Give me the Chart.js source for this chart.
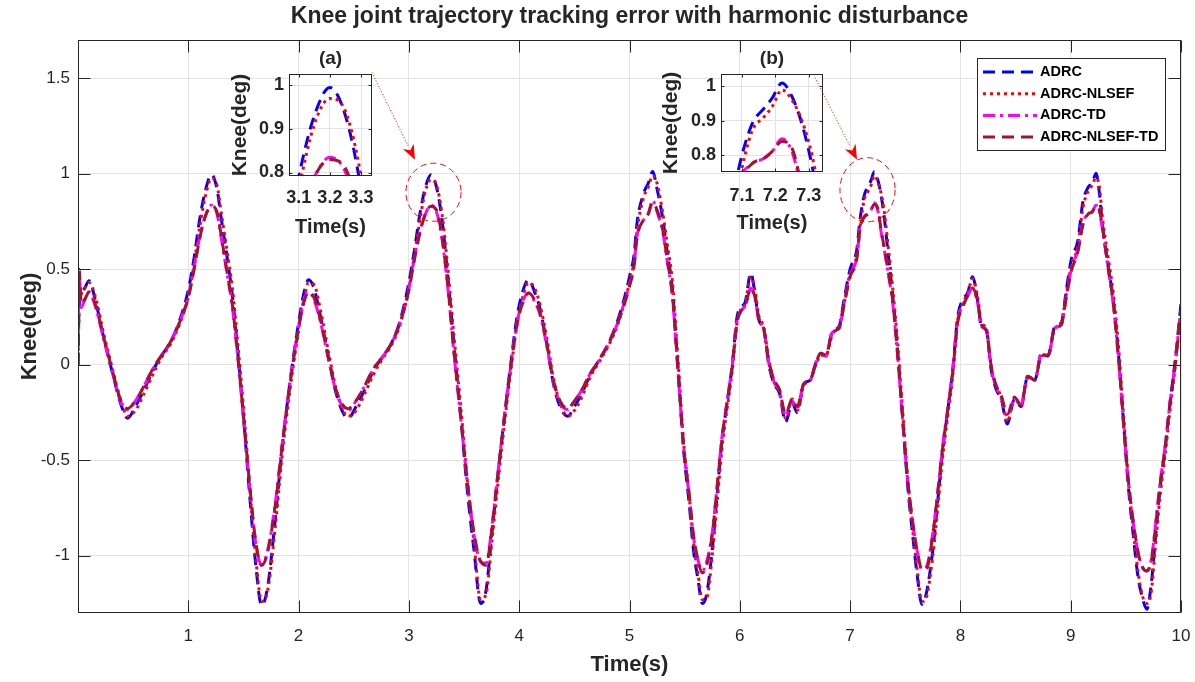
<!DOCTYPE html>
<html>
<head>
<meta charset="utf-8">
<script src="https://cdn.jsdelivr.net/npm/chart.js@4.4.1/dist/chart.umd.min.js"></script>
<style>
  html, body { margin: 0; padding: 0; background: #fff; }
  #wrap { position: relative; width: 1195px; height: 682px; }
  canvas { position: absolute; }
  #marks { pointer-events: none; }
</style>
</head>
<body>
<div id="wrap">
  <canvas id="main" width="1195" height="682" style="left:0;top:0"></canvas>
  <canvas id="insetA" width="160" height="200" style="left:220px;top:40px"></canvas>
  <canvas id="insetB" width="180" height="200" style="left:650px;top:40px"></canvas>
  <canvas id="marks" width="1195" height="682" style="left:0;top:0"></canvas>
</div>
<script>
// ---------- DATA ----------
const time = [
  0, 0.01, 0.03, 0.06, 0.1, 0.16, 0.23, 0.32, 0.39, 0.45, 0.52, 0.6, 0.68, 0.76, 0.84, 0.92, 1.0, 1.05, 1.1, 1.15, 1.21, 1.26, 1.3, 1.35, 1.4, 1.45, 1.5, 1.56, 1.61, 1.665, 1.72, 1.79, 1.85, 1.92, 2.0, 2.05, 2.09, 2.14, 2.2, 2.27, 2.35, 2.45,
  2.52, 2.6, 2.68, 2.76, 2.84, 2.92, 3.0, 3.05, 3.1, 3.15, 3.2, 3.25, 3.3, 3.35, 3.41, 3.47, 3.53, 3.59, 3.65, 3.7, 3.75, 3.8, 3.86, 3.92, 3.98, 4.03, 4.085, 4.14, 4.19, 4.25, 4.31, 4.37, 4.44,
  4.5, 4.56, 4.64, 4.72, 4.8, 4.88, 4.95, 5.0, 5.04, 5.07, 5.13, 5.17, 5.21, 5.25, 5.3, 5.34, 5.39, 5.42, 5.45, 5.49, 5.54, 5.58, 5.62, 5.66, 5.7, 5.75, 5.79, 5.84, 5.885, 5.93, 5.975, 6.01, 6.05, 6.1, 6.14, 6.17, 6.22, 6.26, 6.31, 6.36, 6.415,
  6.475, 6.52, 6.58, 6.64, 6.69, 6.735, 6.78, 6.84, 6.9, 6.945, 7.0, 7.06, 7.09, 7.13, 7.165, 7.19, 7.22, 7.25, 7.28, 7.31, 7.345, 7.385, 7.43, 7.475, 7.52, 7.565, 7.61, 7.65, 7.69, 7.75, 7.795, 7.84, 7.885, 7.93, 7.975, 8.02, 8.065, 8.11, 8.16, 8.19, 8.235, 8.28, 8.325, 8.37, 8.425,
  8.49, 8.55, 8.61, 8.675, 8.735, 8.795, 8.855, 8.915, 8.96, 9.005, 9.065, 9.11, 9.16, 9.195, 9.23, 9.26, 9.29, 9.34, 9.385, 9.43, 9.475, 9.52, 9.565, 9.61, 9.65, 9.69, 9.73, 9.765, 9.81, 9.855, 9.9, 9.945, 10.0
];

const adrc = [
  0, 0.30, 0.38, 0.40, 0.44, 0.33, 0.15, -0.06, -0.21, -0.28, -0.22, -0.13, -0.03, 0.05, 0.12, 0.23, 0.39, 0.55, 0.75, 0.90, 0.995, 0.92, 0.76, 0.57, 0.36, 0.06, -0.27, -0.71, -1.04, -1.26, -1.16, -0.80, -0.44, -0.10, 0.22, 0.38, 0.445, 0.40, 0.25, 0.04, -0.17, -0.28,
  -0.22, -0.13, -0.03, 0.04, 0.11, 0.23, 0.43, 0.60, 0.79, 0.93, 0.995, 0.93, 0.76, 0.48, 0.10, -0.27, -0.66, -0.97, -1.25, -1.18, -0.90, -0.62, -0.30, -0.01, 0.25, 0.38, 0.445, 0.38, 0.29, 0.11, -0.10, -0.22, -0.27,
  -0.22, -0.16, -0.06, 0.02, 0.10, 0.21, 0.34, 0.46, 0.57, 0.75, 0.90, 0.95, 1.012, 0.92, 0.77, 0.60, 0.39, 0.15, -0.10, -0.445, -0.72, -0.97, -1.12, -1.25, -1.20, -0.97, -0.71, -0.39, -0.20, -0.01, 0.25, 0.30, 0.33, 0.48, 0.36, 0.24, 0.18, 0.01, -0.10, -0.15, -0.30,
  -0.20, -0.25, -0.10, -0.08, 0.01, 0.06, 0.045, 0.175, 0.20, 0.34, 0.50, 0.60, 0.76, 0.89, 0.935, 0.965, 1.01, 0.97, 0.89, 0.77, 0.58, 0.37, 0.08, -0.27, -0.62, -0.88, -1.11, -1.255, -1.20, -0.97, -0.71, -0.445, -0.24, -0.03, 0.25, 0.34, 0.375, 0.46, 0.32, 0.20, 0.18, -0.03, -0.13, -0.18, -0.31,
  -0.18, -0.22, -0.06, -0.08, 0.06, 0.045, 0.20, 0.22, 0.39, 0.55, 0.65, 0.85, 0.93, 0.95, 1.003, 0.90, 0.72, 0.52, 0.34, 0.08, -0.27, -0.62, -0.88, -1.11, -1.22, -1.28, -1.15, -0.93, -0.65, -0.445, -0.20, 0.01, 0.32
];

const adrcNlsef = [
  0, 0.28, 0.37, 0.40, 0.43, 0.35, 0.17, -0.04, -0.19, -0.27, -0.24, -0.15, -0.05, 0.04, 0.11, 0.21, 0.36, 0.52, 0.71, 0.87, 0.975, 0.94, 0.79, 0.60, 0.40, 0.10, -0.22, -0.66, -1.00, -1.24, -1.18, -0.84, -0.48, -0.14, 0.18, 0.35, 0.43, 0.42, 0.28, 0.07, -0.15, -0.27,
  -0.24, -0.15, -0.05, 0.03, 0.10, 0.21, 0.40, 0.57, 0.76, 0.91, 0.97, 0.94, 0.79, 0.52, 0.14, -0.22, -0.61, -0.93, -1.23, -1.20, -0.94, -0.66, -0.34, -0.05, 0.21, 0.35, 0.43, 0.40, 0.31, 0.14, -0.07, -0.20, -0.27,
  -0.24, -0.18, -0.07, 0.01, 0.09, 0.19, 0.32, 0.43, 0.54, 0.71, 0.88, 0.93, 0.99, 0.95, 0.80, 0.64, 0.43, 0.19, -0.06, -0.40, -0.68, -0.93, -1.09, -1.23, -1.22, -1.00, -0.75, -0.43, -0.23, -0.04, 0.22, 0.29, 0.32, 0.46, 0.38, 0.26, 0.19, 0.03, -0.08, -0.14, -0.28,
  -0.18, -0.24, -0.11, -0.08, 0.00, 0.05, 0.05, 0.16, 0.20, 0.32, 0.48, 0.57, 0.72, 0.87, 0.91, 0.94, 0.99, 0.96, 0.90, 0.80, 0.62, 0.41, 0.12, -0.23, -0.58, -0.85, -1.08, -1.24, -1.22, -1.00, -0.75, -0.48, -0.27, -0.06, 0.22, 0.32, 0.37, 0.45, 0.34, 0.22, 0.19, -0.01, -0.11, -0.17, -0.30,
  -0.17, -0.22, -0.07, -0.08, 0.05, 0.05, 0.19, 0.22, 0.37, 0.52, 0.62, 0.82, 0.91, 0.94, 0.98, 0.93, 0.76, 0.56, 0.38, 0.12, -0.23, -0.58, -0.85, -1.08, -1.21, -1.25, -1.19, -0.97, -0.69, -0.48, -0.24, -0.02, 0.29
];

const adrcTd = [
  0, 0.48, 0.30, 0.34, 0.38, 0.30, 0.14, -0.06, -0.20, -0.235, -0.19, -0.11, -0.02, 0.05, 0.12, 0.22, 0.36, 0.50, 0.66, 0.77, 0.835, 0.79, 0.66, 0.48, 0.30, 0.03, -0.28, -0.66, -0.93, -1.05, -0.97, -0.72, -0.42, -0.10, 0.20, 0.34, 0.38, 0.34, 0.22, 0.03, -0.16, -0.24,
  -0.19, -0.11, -0.02, 0.04, 0.11, 0.22, 0.40, 0.56, 0.70, 0.79, 0.835, 0.80, 0.66, 0.42, 0.05, -0.28, -0.62, -0.89, -1.03, -1.04, -0.86, -0.60, -0.30, -0.02, 0.22, 0.33, 0.375, 0.33, 0.26, 0.10, -0.09, -0.20, -0.235,
  -0.19, -0.14, -0.05, 0.02, 0.10, 0.20, 0.32, 0.42, 0.52, 0.68, 0.76, 0.79, 0.86, 0.80, 0.70, 0.55, 0.35, 0.12, -0.12, -0.43, -0.68, -0.90, -1.02, -1.08, -1.03, -0.88, -0.66, -0.37, -0.19, -0.01, 0.23, 0.28, 0.31, 0.40, 0.34, 0.24, 0.18, 0.02, -0.09, -0.14, -0.27,
  -0.19, -0.23, -0.10, -0.08, 0.01, 0.06, 0.045, 0.17, 0.19, 0.32, 0.47, 0.56, 0.72, 0.775, 0.79, 0.81, 0.848, 0.81, 0.70, 0.60, 0.48, 0.33, 0.05, -0.28, -0.60, -0.82, -0.98, -1.07, -1.06, -0.88, -0.66, -0.42, -0.23, -0.03, 0.23, 0.31, 0.36, 0.40, 0.31, 0.20, 0.18, -0.02, -0.12, -0.17, -0.27,
  -0.18, -0.21, -0.06, -0.08, 0.06, 0.045, 0.19, 0.21, 0.36, 0.50, 0.60, 0.74, 0.79, 0.80, 0.835, 0.80, 0.70, 0.50, 0.32, 0.05, -0.28, -0.60, -0.82, -0.98, -1.06, -1.08, -1.02, -0.86, -0.62, -0.43, -0.20, 0.00, 0.30
];

const adrcNlsefTd = [
  0, 0.50, 0.32, 0.34, 0.38, 0.31, 0.15, -0.05, -0.19, -0.23, -0.19, -0.11, -0.02, 0.05, 0.12, 0.22, 0.35, 0.49, 0.65, 0.77, 0.83, 0.80, 0.67, 0.49, 0.31, 0.04, -0.27, -0.65, -0.92, -1.05, -0.98, -0.73, -0.43, -0.11, 0.19, 0.33, 0.38, 0.35, 0.23, 0.04, -0.15, -0.23,
  -0.19, -0.11, -0.02, 0.04, 0.11, 0.22, 0.39, 0.55, 0.69, 0.79, 0.83, 0.81, 0.67, 0.43, 0.06, -0.27, -0.61, -0.88, -1.03, -1.05, -0.87, -0.61, -0.31, -0.03, 0.21, 0.32, 0.375, 0.34, 0.27, 0.11, -0.08, -0.19, -0.23,
  -0.19, -0.14, -0.05, 0.02, 0.10, 0.20, 0.31, 0.41, 0.51, 0.67, 0.76, 0.79, 0.85, 0.81, 0.71, 0.56, 0.36, 0.13, -0.11, -0.42, -0.67, -0.89, -1.02, -1.09, -1.05, -0.89, -0.67, -0.38, -0.20, -0.02, 0.22, 0.28, 0.31, 0.40, 0.35, 0.25, 0.18, 0.03, -0.08, -0.13, -0.26,
  -0.18, -0.22, -0.10, -0.08, 0.01, 0.06, 0.05, 0.17, 0.19, 0.31, 0.46, 0.55, 0.71, 0.775, 0.79, 0.81, 0.84, 0.82, 0.71, 0.61, 0.49, 0.34, 0.06, -0.27, -0.59, -0.81, -0.98, -1.07, -1.07, -0.89, -0.67, -0.43, -0.24, -0.04, 0.22, 0.30, 0.36, 0.40, 0.32, 0.21, 0.18, -0.01, -0.11, -0.16, -0.26,
  -0.17, -0.21, -0.06, -0.08, 0.05, 0.05, 0.19, 0.21, 0.35, 0.49, 0.59, 0.73, 0.79, 0.80, 0.83, 0.81, 0.71, 0.51, 0.33, 0.06, -0.27, -0.59, -0.81, -0.98, -1.06, -1.08, -1.03, -0.87, -0.63, -0.44, -0.21, -0.01, 0.29
];

const seriesNames = ["ADRC", "ADRC-NLSEF", "ADRC-TD", "ADRC-NLSEF-TD"];
const seriesValues = [adrc, adrcNlsef, adrcTd, adrcNlsefTd];

const xTicks = [1, 2, 3, 4, 5, 6, 7, 8, 9, 10];
const yTicks = [-1, -0.5, 0, 0.5, 1, 1.5];
const insetYTicks = [0.8, 0.9, 1];
const insetATicks = [3.1, 3.2, 3.3];
const insetBTicks = [7.1, 7.2, 7.3];

// ---------- STYLE ----------
const FONT = "'Liberation Sans', Arial, sans-serif";
const INK = "#262626";
const GRID = "#e3e3e3";
const lineColors = ["#0000ff", "#ff0000", "#ff00ff", "#a2142f"];
const lineDash = [[12, 7], [3, 4], [12, 5, 3, 5], [12, 7]];

function buildDatasets() {
  return seriesNames.map((name, k) => ({
    label: name,
    data: time.map((t, i) => ({ x: t, y: seriesValues[k][i] })),
    borderColor: lineColors[k],
    borderWidth: 3,
    borderDash: lineDash[k],
    pointRadius: 0,
    fill: false,
    cubicInterpolationMode: "monotone",
    order: 4 - k
  }));
}

function axisOpts(o) {
  return {
    type: "linear",
    min: o.min, max: o.max,
    afterBuildTicks: s => { s.ticks = o.ticks.map(v => ({ value: v })); },
    afterFit: s => {
      if (o.height) s.height = o.height;
      if (o.width) s.width = o.width;
      // keep the plot box where it is, labels may overhang
      s.paddingLeft = s.paddingRight = s.paddingTop = s.paddingBottom = 0;
    },
    grid: { color: GRID, drawTicks: false },
    border: { display: false },
    ticks: {
      autoSkip: false, maxRotation: 0, color: INK, padding: o.pad,
      font: { family: FONT, size: o.fs, weight: o.bold ? "bold" : "normal" },
      callback: o.fmt || (v => String(v))
    },
    title: {
      display: true, text: o.title, color: INK,
      font: { family: FONT, size: o.ts, weight: "bold" },
      padding: o.tpad
    }
  };
}

// white plot area + box + inward tick marks
function framePlugin(len) {
  return {
    id: "frame",
    beforeDraw(chart) {
      const a = chart.chartArea, c = chart.ctx;
      c.save();
      c.fillStyle = "#fff";
      c.fillRect(a.left, a.top, a.right - a.left, a.bottom - a.top);
      c.restore();
    },
    afterDraw(chart) {
      const a = chart.chartArea, c = chart.ctx;
      const sx = chart.scales.x, sy = chart.scales.y;
      const L = Math.round(a.left) + 0.5, R = Math.round(a.right) - 0.5;
      const T = Math.round(a.top) + 0.5, B = Math.round(a.bottom) - 0.5;
      c.save();
      c.strokeStyle = INK;
      c.lineWidth = 1;
      c.beginPath();
      sx.ticks.forEach(t => {
        const p = Math.round(sx.getPixelForValue(t.value)) + 0.5;
        c.moveTo(p, B); c.lineTo(p, B - len);
        c.moveTo(p, T); c.lineTo(p, T + len);
      });
      sy.ticks.forEach(t => {
        const p = Math.round(sy.getPixelForValue(t.value)) + 0.5;
        c.moveTo(L, p); c.lineTo(L + len, p);
        c.moveTo(R, p); c.lineTo(R - len, p);
      });
      c.stroke();
      c.strokeRect(L, T, R - L, B - T);
      c.restore();
    }
  };
}

function titlePlugin(text, size, dy) {
  return {
    id: "heading",
    afterDraw(chart) {
      const a = chart.chartArea, c = chart.ctx;
      c.save();
      c.fillStyle = INK;
      c.font = "bold " + size + "px " + FONT;
      c.textAlign = "center";
      c.textBaseline = "middle";
      c.fillText(text, (a.left + a.right) / 2, a.top - dy);
      c.restore();
    }
  };
}

const legendPlugin = {
  id: "matLegend",
  afterDraw(chart) {
    const a = chart.chartArea, c = chart.ctx;
    const x0 = a.right - 204, y0 = a.top + 18, w = 188, h = 92;
    c.save();
    c.fillStyle = "#fff";
    c.fillRect(x0, y0, w, h);
    c.strokeStyle = INK;
    c.lineWidth = 1;
    c.strokeRect(x0 + 0.5, y0 + 0.5, w, h);
    c.font = "bold 14.5px " + FONT;
    c.textBaseline = "middle";
    seriesNames.forEach((name, k) => {
      const y = y0 + 14 + k * 21.7;
      c.beginPath();
      c.setLineDash(lineDash[k]);
      c.strokeStyle = lineColors[k];
      c.lineWidth = 3;
      c.moveTo(x0 + 6, y);
      c.lineTo(x0 + 60, y);
      c.stroke();
      c.setLineDash([]);
      c.fillStyle = "#000";
      c.fillText(name, x0 + 63, y);
    });
    c.restore();
  }
};

// zoom circles and arrows, placed in axis units, drawn on a top layer
const zoomMarks = [
  { cx: 3.223, cy: 0.903, rx: 0.25, ry: 0.152, from: [2.665, 1.53], to: [3.055, 1.073] },
  { cx: 7.158, cy: 0.916, rx: 0.25, ry: 0.168, from: [6.682, 1.503], to: [7.063, 1.073] }
];

const marksPlugin = {
  id: "zoomMarks",
  afterDraw(chart) {
    const c = document.getElementById("marks").getContext("2d");
    const sx = chart.scales.x, sy = chart.scales.y;
    c.clearRect(0, 0, c.canvas.width, c.canvas.height);
    c.save();
    c.strokeStyle = "#ff0000";
    c.fillStyle = "#ff0000";
    c.lineWidth = 1;
    zoomMarks.forEach(m => {
      const cx = sx.getPixelForValue(m.cx), cy = sy.getPixelForValue(m.cy);
      const rx = sx.getPixelForValue(m.cx + m.rx) - cx;
      const ry = cy - sy.getPixelForValue(m.cy + m.ry);
      c.setLineDash([6, 4]);
      c.beginPath();
      c.ellipse(cx, cy, rx, ry, 0, 0, Math.PI * 2);
      c.stroke();
      const x1 = sx.getPixelForValue(m.from[0]), y1 = sy.getPixelForValue(m.from[1]);
      const x2 = sx.getPixelForValue(m.to[0]), y2 = sy.getPixelForValue(m.to[1]);
      const ang = Math.atan2(y2 - y1, x2 - x1);
      const hl = 15, hw = 6;
      const bx = x2 - hl * Math.cos(ang), by = y2 - hl * Math.sin(ang);
      c.setLineDash([1, 2]);
      c.beginPath();
      c.moveTo(x1, y1);
      c.lineTo(bx, by);
      c.stroke();
      c.setLineDash([]);
      c.beginPath();
      c.moveTo(x2, y2);
      c.lineTo(bx - hw * Math.sin(ang), by + hw * Math.cos(ang));
      c.lineTo(x2 - 0.7 * hl * Math.cos(ang), y2 - 0.7 * hl * Math.sin(ang));
      c.lineTo(bx + hw * Math.sin(ang), by - hw * Math.cos(ang));
      c.closePath();
      c.fill();
    });
    c.restore();
  }
};

const baseOpts = {
  responsive: false, animation: false, devicePixelRatio: 1, events: [],
  plugins: { legend: { display: false }, tooltip: { enabled: false } }
};

// ---------- MAIN CHART ----------
new Chart(document.getElementById("main"), {
  type: "line",
  data: { datasets: buildDatasets() },
  options: {
    ...baseOpts,
    layout: { padding: { left: 17, top: 40, right: 14, bottom: 0 } },
    scales: {
      x: axisOpts({ min: 0, max: 10, ticks: xTicks, height: 69, pad: 13, fs: 17,
        title: "Time(s)", ts: 22, tpad: { top: 0, bottom: 4 } }),
      y: axisOpts({ min: -1.3, max: 1.7, ticks: yTicks, width: 61, pad: 8, fs: 17,
        title: "Knee(deg)", ts: 22, tpad: { top: 0, bottom: 0 } })
    }
  },
  plugins: [framePlugin(12), titlePlugin("Knee joint trajectory tracking error with harmonic disturbance", 23, 23), legendPlugin, marksPlugin]
});

// ---------- INSETS ----------
function inset(id, o) {
  new Chart(document.getElementById(id), {
    type: "line",
    data: { datasets: buildDatasets() },
    options: {
      ...baseOpts,
      layout: { padding: { left: o.padLeft, top: 34, right: o.padRight, bottom: 0 } },
      scales: {
        x: axisOpts({ min: o.xMin, max: o.xMax, ticks: o.xTicks, height: o.xh, pad: o.xPad, fs: 18, bold: true,
          fmt: v => v.toFixed(1), title: "Time(s)", ts: 20, tpad: { top: 0, bottom: o.xtPad } }),
        y: axisOpts({ min: o.yMin, max: o.yMax, ticks: insetYTicks, width: o.yw, pad: 5, fs: 18, bold: true,
          fmt: v => String(+v.toFixed(2)), title: "Knee(deg)", ts: 21, tpad: { top: 0, bottom: 0 } })
      }
    },
    plugins: [framePlugin(3), titlePlugin(o.tag, 19, 15)]
  });
}

inset("insetA", { tag: "(a)", xMin: 3.069, xMax: 3.335, yMin: 0.792, yMax: 1.026, xTicks: insetATicks,
  padLeft: 8, yw: 61, padRight: 8, xh: 64, xPad: 11, xtPad: 1 });
inset("insetB", { tag: "(b)", xMin: 7.037, xMax: 7.343, yMin: 0.751, yMax: 1.036, xTicks: insetBTicks,
  padLeft: 9, yw: 62, padRight: 7, xh: 68, xPad: 13, xtPad: 5 });
</script>
</body>
</html>
